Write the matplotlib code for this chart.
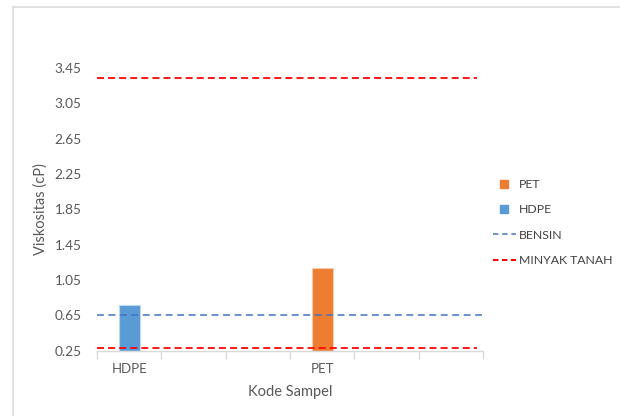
import matplotlib
matplotlib.use("Agg")
import matplotlib.pyplot as plt
from matplotlib.lines import Line2D
import numpy as np

# sample categories (Excel-style axis with empty slots)
kode_sampel = ["HDPE", "", "", "PET", "", ""]
hdpe_viskositas = 0.77
pet_viskositas = 1.19
bensin = 0.65
minyak_tanah = [0.28, 3.34]
y_ticks = [0.25, 0.65, 1.05, 1.45, 1.85, 2.25, 2.65, 3.05, 3.45]

plt.rcParams["font.family"] = ["Lato", "DejaVu Sans"]
grey_text = "#595959"
c_orange = "#ED7D31"
c_blue = "#5B9BD5"
c_line_blue = "#4472C4"
c_red = "#FF0000"

fig = plt.figure(figsize=(6.2, 4.16), dpi=100)
W, H = 620, 416
ax = fig.add_axes([97 / W, 1 - 350.7 / H, (483 - 97) / W, (350.7 - 68) / H])

x = np.arange(len(kode_sampel))
ax.bar(x[0], hdpe_viskositas - y_ticks[0], bottom=y_ticks[0], width=0.33,
       color=c_blue, edgecolor="#BDD7EE", linewidth=0.8, zorder=2)
ax.bar(x[3], pet_viskositas - y_ticks[0], bottom=y_ticks[0], width=0.33,
       color=c_orange, edgecolor="#F8CBAD", linewidth=0.8, zorder=2)

ax.axhline(bensin, xmin=0, xmax=1, color=c_line_blue, lw=1.1,
           dashes=(4.5, 3.0), zorder=3)
for v in minyak_tanah:
    ax.axhline(v, xmin=0, xmax=0.985, color=c_red, lw=1.4,
               dashes=(3.6, 2.1), alpha=0.9, zorder=3)

ax.set_xlim(-0.5, len(kode_sampel) - 0.5)
ax.set_ylim(y_ticks[0], y_ticks[-1])

# category boundaries as ticks, names at the centres
ax.set_xticks(np.arange(-0.5, len(kode_sampel), 1))
ax.set_xticklabels([])
ax.set_xticks(x, minor=True)
ax.set_xticklabels(kode_sampel, minor=True)
ax.tick_params(axis="x", which="major", length=6, color="#D9D9D9", width=1)
ax.tick_params(axis="x", which="minor", length=0, pad=9,
               labelsize=9.5, labelcolor=grey_text)

ax.set_yticks(y_ticks)
ax.set_yticklabels([f"{t:.2f}" for t in y_ticks])
ax.tick_params(axis="y", length=0, pad=11, labelsize=9.8, labelcolor=grey_text)

for side in ["top", "right", "left"]:
    ax.spines[side].set_visible(False)
ax.spines["bottom"].set_color("#D9D9D9")
ax.spines["bottom"].set_linewidth(1)

ax.set_ylabel("Viskositas (cP)", fontsize=10.5, color=grey_text, labelpad=5)
ax.set_xlabel("Kode Sampel", fontsize=10.5, color=grey_text, labelpad=7)

handles = [
    Line2D([], [], ls="none", marker="s", ms=6, color=c_orange),
    Line2D([], [], ls="none", marker="s", ms=6, color=c_blue),
    Line2D([], [], color=c_line_blue, lw=1.1, dashes=(3.5, 2.5)),
    Line2D([], [], color=c_red, lw=1.4, dashes=(2.8, 1.8)),
]
labels = ["PET", "HDPE", "BENSIN", "MINYAK TANAH"]
leg = fig.legend(handles, labels, loc="upper left",
                 bbox_to_anchor=(488 / W, 1 - 174 / H), frameon=False,
                 fontsize=8.8, handlelength=1.85, handletextpad=0.3,
                 labelspacing=1.18, borderaxespad=0)
for t in leg.get_texts():
    t.set_color("#404040")

# outer chart frame
fig.add_artist(Line2D([12.5 / W, 12.5 / W], [0, 1 - 6.5 / H],
                      transform=fig.transFigure, color="#D9D9D9", lw=1.1))
fig.add_artist(Line2D([12.5 / W, 1], [1 - 6.5 / H, 1 - 6.5 / H],
                      transform=fig.transFigure, color="#D9D9D9", lw=1.1))

fig.savefig("out.png", dpi=100)
